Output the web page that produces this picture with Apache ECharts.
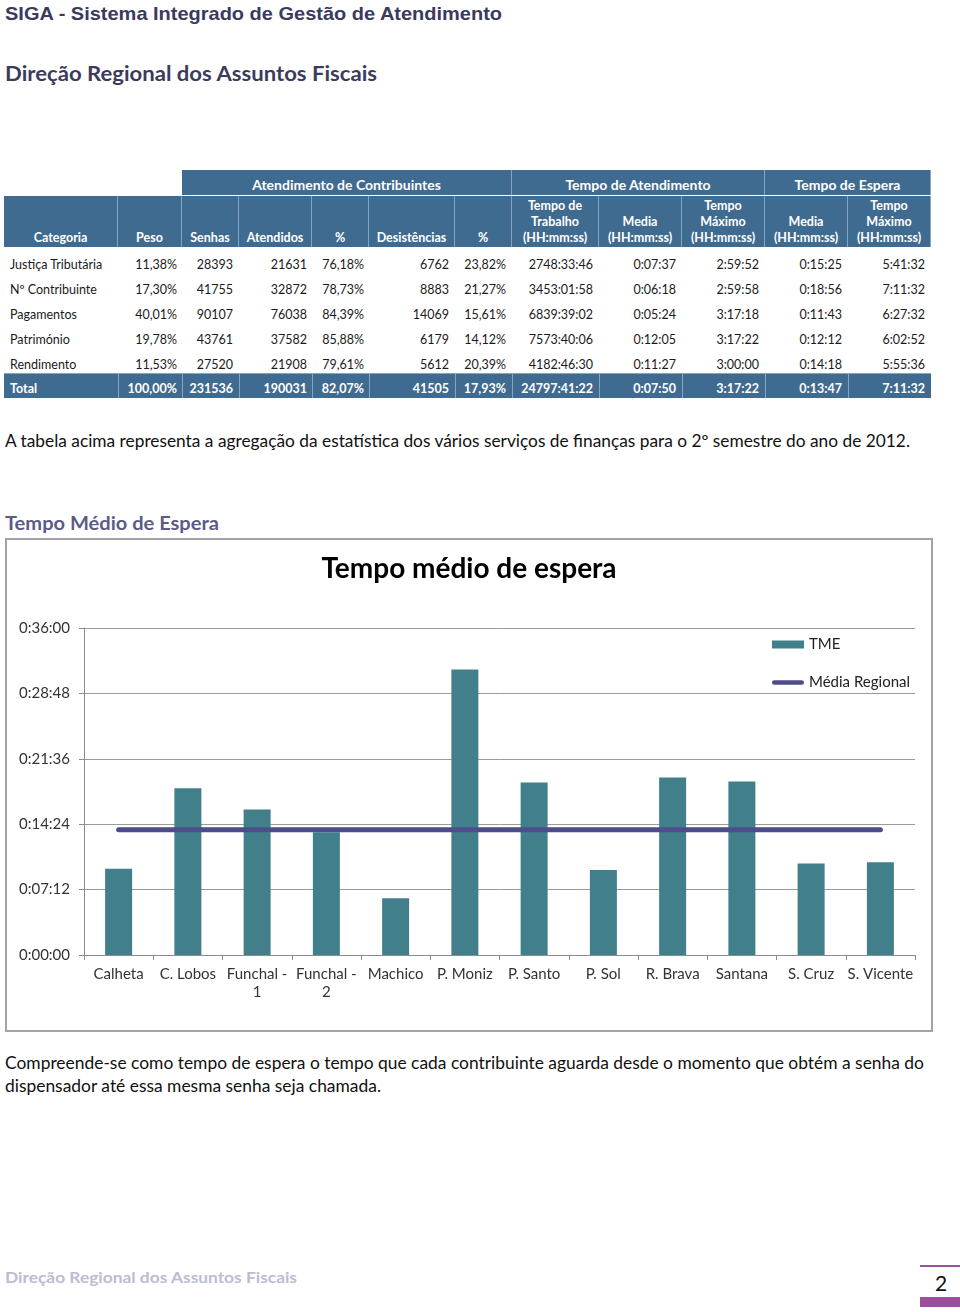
<!DOCTYPE html>
<html><head><meta charset="utf-8">
<script src="https://cdn.jsdelivr.net/npm/echarts@6/dist/echarts.min.js"></script>
<style>
body{margin:0;width:960px;height:1312px;position:relative;background:#fff;overflow:hidden;font-family:Lato,sans-serif}
.abs{position:absolute;white-space:nowrap}
.fit{display:inline-block;transform-origin:0 50%;white-space:nowrap}
.hc{position:absolute;box-sizing:border-box;background:#3f6b90;color:#fff;font-weight:bold;font-size:12.5px;line-height:16px;text-align:center;display:flex;flex-direction:column;justify-content:flex-end;padding-bottom:1px;border-right:1px solid #86a5c2}
.dc{position:absolute;font-size:12.5px;line-height:20px;height:20px;color:#1a1a1a;white-space:nowrap}
</style></head><body>
<div id="page"></div>
<div id="chart" style="position:absolute;left:5px;top:538px;width:928px;height:494px;box-sizing:border-box;border:2px solid #a3a3a3"></div>
<script>
// ---------- data: table ----------
const categorias = ['Justiça Tributária','Nº Contribuinte','Pagamentos','Património','Rendimento','Total'];
const peso = ['11,38%','17,30%','40,01%','19,78%','11,53%','100,00%'];
const senhas = ['28393','41755','90107','43761','27520','231536'];
const atendidos = ['21631','32872','76038','37582','21908','190031'];
const pctAtendidos = ['76,18%','78,73%','84,39%','85,88%','79,61%','82,07%'];
const desistencias = ['6762','8883','14069','6179','5612','41505'];
const pctDesistencias = ['23,82%','21,27%','15,61%','14,12%','20,39%','17,93%'];
const tempoTrabalho = ['2748:33:46','3453:01:58','6839:39:02','7573:40:06','4182:46:30','24797:41:22'];
const mediaAtendimento = ['0:07:37','0:06:18','0:05:24','0:12:05','0:11:27','0:07:50'];
const maxAtendimento = ['2:59:52','2:59:58','3:17:18','3:17:22','3:00:00','3:17:22'];
const mediaEspera = ['0:15:25','0:18:56','0:11:43','0:12:12','0:14:18','0:13:47'];
const maxEspera = ['5:41:32','7:11:32','6:27:32','6:02:52','5:55:36','7:11:32'];
const headerGroups = ['Atendimento de Contribuintes','Tempo de Atendimento','Tempo de Espera'];
const headerCols = ['Categoria','Peso','Senhas','Atendidos','%','Desistências','%','Tempo de\nTrabalho\n(HH:mm:ss)','Media\n(HH:mm:ss)','Tempo\nMáximo\n(HH:mm:ss)','Media\n(HH:mm:ss)','Tempo\nMáximo\n(HH:mm:ss)'];

// ---------- data: chart ----------
const estacoes = ['Calheta','C. Lobos','Funchal - 1','Funchal - 2','Machico','P. Moniz','P. Santo','P. Sol','R. Brava','Santana','S. Cruz','S. Vicente'];
const tme = ['0:09:29','0:18:22','0:16:01','0:13:31','0:06:15','0:31:26','0:18:59','0:09:22','0:19:32','0:19:06','0:10:04','0:10:13'];
const mediaRegional = ['0:13:47','0:13:47','0:13:47','0:13:47','0:13:47','0:13:47','0:13:47','0:13:47','0:13:47','0:13:47','0:13:47','0:13:47'];
const yTicks = ['0:00:00','0:07:12','0:14:24','0:21:36','0:28:48','0:36:00'];

// ---------- layout ----------
const colEdges = [4,118,182,239,312,369,455,512,599,682,765,848,931];
const groupSpans = [[2,7],[7,10],[10,12]];
const page = document.getElementById('page');
function el(cls, css, html){const d=document.createElement('div');d.className=cls;d.style.cssText=css;d.innerHTML=html;page.appendChild(d);return d;}

// Headings
el('abs','left:5px;top:2px;font-family:"Liberation Sans",Arial;font-weight:bold;font-size:19px;line-height:24px;color:#3a3a5e','<span class="fit" data-w="497">SIGA - Sistema Integrado de Gestão de Atendimento</span>');
el('abs','left:5px;top:60px;font-family:Lato;font-weight:bold;font-size:20px;line-height:26px;color:#3b3b5c','<span class="fit" data-w="372">Direção Regional dos Assuntos Fiscais</span>');

// Table header
groupSpans.forEach((g,i)=>{
  const x0=colEdges[g[0]], x1=colEdges[g[1]];
  el('hc',`left:${x0}px;top:170px;width:${x1-x0}px;height:25px;font-size:14px;padding-top:6px;justify-content:center;`, headerGroups[i]);
});
headerCols.forEach((t,i)=>{
  const x0=colEdges[i], x1=colEdges[i+1];
  el('hc',`left:${x0}px;top:196px;width:${x1-x0}px;height:51px;`, t.split('\n').join('<br>'));
});
// Table body
const cols = [peso,senhas,atendidos,pctAtendidos,desistencias,pctDesistencias,tempoTrabalho,mediaAtendimento,maxAtendimento,mediaEspera,maxEspera];
const textRight = [177,233,307,364,449,506,593,676,759,842,925];
categorias.forEach((c,r)=>{
  const total = r===categorias.length-1;
  const top = total ? 379 : 255 + r*25;
  if(total){
    el('abs',`left:4px;top:373px;width:927px;height:25px;background:#3f6b90;border-top:1px solid #86a5c2;box-sizing:border-box`,'');
    for(let i=1;i<12;i++) el('abs',`left:${colEdges[i]}px;top:373px;width:1px;height:25px;background:#86a5c2`,'');
  }
  const style = total ? 'color:#fff;font-weight:bold;' : '';
  el('dc',`left:10px;top:${top}px;${style}`, c);
  cols.forEach((arr,k)=>{
    el('dc',`right:${960-textRight[k]}px;top:${top}px;text-align:right;${style}`, arr[r]);
  });
});

// Paragraphs
el('abs','left:5px;top:430px;font-family:Lato;font-size:16.5px;line-height:22px;color:#111','<span class="fit" data-w="905">A tabela acima representa a agregação da estatística dos vários serviços de finanças para o 2º semestre do ano de 2012.</span>');
el('abs','left:5px;top:511px;font-family:Lato;font-weight:bold;font-size:18px;line-height:24px;color:#5b5b88','<span class="fit" data-w="214">Tempo Médio de Espera</span>');
el('abs','left:5px;top:1052px;font-family:Lato;font-size:16.5px;line-height:22px;color:#111','<span class="fit" id="p2a" data-w="919">Compreende-se como tempo de espera o tempo que cada contribuinte aguarda desde o momento que obtém a senha do</span>');
el('abs','left:5px;top:1075px;font-family:Lato;font-size:16.5px;line-height:22px;color:#111','<span class="fit" id="p2b">dispensador até essa mesma senha seja chamada.</span>');

// Footer
el('abs','left:5px;top:1266px;font-family:Lato;font-weight:bold;font-size:16px;line-height:22px;color:#bcbcd2','<span class="fit" data-w="292">Direção Regional dos Assuntos Fiscais</span>');
el('abs','left:920px;top:1265px;width:40px;height:2px;background:#9a4e9c','');
el('abs','left:934px;top:1270px;font-family:Lato;font-size:21px;line-height:26px;color:#111;width:14px;text-align:center','2');
el('abs','left:920px;top:1297px;width:40px;height:10px;background:#9a4e9c','');

function fitAll(){
  let s2=1;
  document.querySelectorAll('.fit').forEach(s=>{
    s.style.transform='none';
    const w=s.getBoundingClientRect().width;
    const t=+s.dataset.w;
    if(t&&w){const k=t/w;s.style.transform=`scaleX(${k})`; if(s.id==='p2a') s2=k;}
  });
  const b=document.getElementById('p2b'); b.style.transform=`scaleX(${s2})`;
}
fitAll();
if(document.fonts&&document.fonts.ready) document.fonts.ready.then(fitAll);

// ---------- chart ----------
function toSec(s){const p=s.split(':').map(Number);return p[0]*3600+p[1]*60+p[2];}
function fmt(v){const h=Math.floor(v/3600),m=Math.floor((v%3600)/60),s=Math.round(v%60);return h+':'+String(m).padStart(2,'0')+':'+String(s).padStart(2,'0');}
const chart = echarts.init(document.getElementById('chart'), null, {renderer:'canvas'});
const FF = 'Lato';
const lineIcon = 'path://M0,2.5 A2.5,2.5 0 0 1 2.5,0 L32.5,0 A2.5,2.5 0 0 1 35,2.5 A2.5,2.5 0 0 1 32.5,5 L2.5,5 A2.5,2.5 0 0 1 0,2.5 Z';
chart.setOption({
  animation:false,
  title:{text:'Tempo médio de espera',left:'center',top:10,textStyle:{fontFamily:FF,fontSize:28,fontWeight:'bold',color:'#000'}},
  legend:{orient:'vertical',left:760,top:92,itemWidth:32,itemHeight:8,itemGap:23,
    textStyle:{fontFamily:FF,fontSize:15,color:'#222'},
    data:[{name:'TME',icon:'rect'},{name:'Média Regional',icon:lineIcon}]},
  grid:{left:77,right:16,top:88,bottom:75},
  xAxis:{type:'category',data:estacoes,
    axisLine:{lineStyle:{color:'#8c8c8c',width:1}},
    axisTick:{show:true,length:5,lineStyle:{color:'#8c8c8c'}},
    axisLabel:{interval:0,color:'#333',fontFamily:FF,fontSize:15,margin:10,lineHeight:18,formatter:v=>v.replace(' - ',' -\n')}},
  yAxis:{type:'value',min:toSec(yTicks[0]),max:toSec(yTicks[yTicks.length-1]),interval:toSec(yTicks[1])-toSec(yTicks[0]),
    axisLine:{show:true,lineStyle:{color:'#8c8c8c',width:1}},
    axisTick:{show:true,length:5,lineStyle:{color:'#8c8c8c'}},
    splitLine:{lineStyle:{color:'#999',width:1}},
    axisLabel:{color:'#333',fontFamily:FF,fontSize:15,margin:14,formatter:v=>fmt(v)}},
  series:[
    {name:'TME',type:'bar',data:tme.map(toSec),barWidth:'39%',itemStyle:{color:'#41808a'}},
    {name:'Média Regional',type:'line',data:mediaRegional.map(toSec),symbol:'none',z:5,
      lineStyle:{color:'#4d4d8b',width:5,cap:'round'},itemStyle:{color:'#4d4d8b'}}
  ]
});
</script>
</body></html>
